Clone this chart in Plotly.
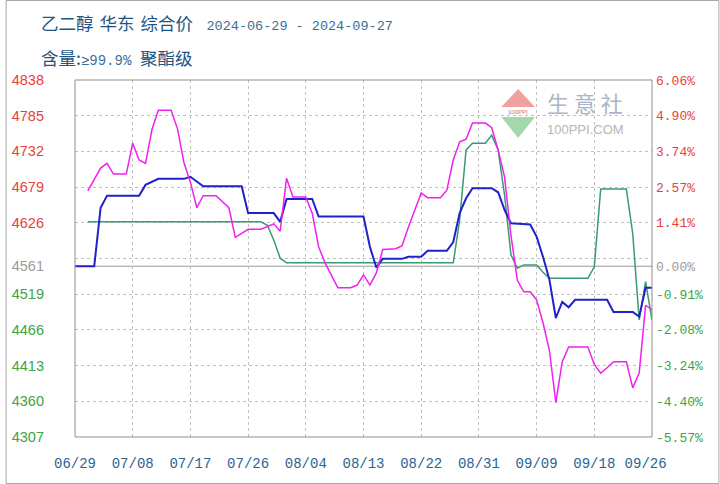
import plotly.graph_objects as go

# ---------------- data ----------------
blue_dates = ["2024-06-29", "2024-07-02", "2024-07-03", "2024-07-04", "2024-07-09", "2024-07-10",
              "2024-07-12", "2024-07-16", "2024-07-17", "2024-07-19", "2024-07-25", "2024-07-26",
              "2024-07-30", "2024-07-31", "2024-08-01", "2024-08-05", "2024-08-06", "2024-08-13",
              "2024-08-14", "2024-08-15", "2024-08-16", "2024-08-19", "2024-08-20", "2024-08-22",
              "2024-08-23", "2024-08-26", "2024-08-27", "2024-08-28", "2024-08-29", "2024-08-30",
              "2024-09-02", "2024-09-03", "2024-09-04", "2024-09-05", "2024-09-08", "2024-09-09",
              "2024-09-10", "2024-09-11", "2024-09-12", "2024-09-13", "2024-09-14", "2024-09-15",
              "2024-09-20", "2024-09-21", "2024-09-24", "2024-09-25", "2024-09-26", "2024-09-27"]
blue_vals = [4561, 4561, 4648, 4666, 4666, 4682,
             4691, 4691, 4694, 4680, 4680, 4640,
             4640, 4627, 4661, 4661, 4635, 4635,
             4590, 4559, 4572, 4572, 4575, 4575,
             4584, 4584, 4597, 4640, 4662, 4677,
             4677, 4671, 4645, 4625, 4623, 4605,
             4575, 4541, 4484, 4508, 4500, 4511,
             4511, 4493, 4493, 4486, 4529, 4529]

magenta_dates = ["2024-07-01", "2024-07-03", "2024-07-04", "2024-07-05", "2024-07-07", "2024-07-08",
                 "2024-07-09", "2024-07-10", "2024-07-11", "2024-07-12", "2024-07-14", "2024-07-15",
                 "2024-07-16", "2024-07-17", "2024-07-18", "2024-07-19", "2024-07-21", "2024-07-23",
                 "2024-07-24", "2024-07-26", "2024-07-28", "2024-07-30", "2024-07-31", "2024-08-01",
                 "2024-08-02", "2024-08-04", "2024-08-05", "2024-08-06", "2024-08-07", "2024-08-09",
                 "2024-08-11", "2024-08-12", "2024-08-13", "2024-08-14", "2024-08-15", "2024-08-16",
                 "2024-08-18", "2024-08-19", "2024-08-20", "2024-08-21", "2024-08-22", "2024-08-23",
                 "2024-08-25", "2024-08-26", "2024-08-27", "2024-08-28", "2024-08-29", "2024-08-30",
                 "2024-09-01", "2024-09-02", "2024-09-03", "2024-09-04", "2024-09-05", "2024-09-06",
                 "2024-09-07", "2024-09-08", "2024-09-09", "2024-09-10", "2024-09-11", "2024-09-12",
                 "2024-09-13", "2024-09-14", "2024-09-17", "2024-09-18", "2024-09-19", "2024-09-20",
                 "2024-09-21", "2024-09-23", "2024-09-24", "2024-09-25", "2024-09-26", "2024-09-27"]
magenta_vals = [4673, 4707, 4714, 4698, 4698, 4744,
                4719, 4714, 4764, 4793, 4793, 4765,
                4715, 4686, 4648, 4666, 4666, 4648,
                4604, 4616, 4616, 4624, 4613, 4692,
                4664, 4664, 4640, 4590, 4566, 4529,
                4529, 4533, 4548, 4533, 4551, 4586,
                4587, 4591, 4619, 4645, 4670, 4663,
                4663, 4674, 4719, 4746, 4750, 4774,
                4774, 4767, 4734, 4694, 4607, 4540,
                4523, 4523, 4511, 4477, 4436, 4358,
                4419, 4441, 4441, 4415, 4402, 4410,
                4419, 4419, 4380, 4402, 4503, 4496]

green_dates = ["2024-07-01", "2024-07-28", "2024-07-29", "2024-07-30", "2024-07-31", "2024-08-01",
               "2024-08-27", "2024-08-28", "2024-08-29", "2024-08-30", "2024-09-01", "2024-09-02",
               "2024-09-03", "2024-09-04", "2024-09-05", "2024-09-06", "2024-09-07", "2024-09-09",
               "2024-09-10", "2024-09-11", "2024-09-17", "2024-09-18", "2024-09-19", "2024-09-23",
               "2024-09-24", "2024-09-25", "2024-09-26", "2024-09-27"]
green_vals = [4627, 4627, 4622, 4600, 4573, 4566,
              4566, 4630, 4734, 4744, 4744, 4756,
              4734, 4667, 4578, 4558, 4563, 4563,
              4552, 4543, 4543, 4560, 4676, 4676,
              4609, 4481, 4538, 4481]

base_price = 4561
y_tick_vals = [4307, 4360.1, 4413.2, 4466.3, 4519.4, 4561, 4625.6, 4678.7, 4731.8, 4784.9, 4838]
y_tick_text = ["4307", "4360", "4413", "4466", "4519", "4561", "4626", "4679", "4732", "4785", "4838"]
pct_tick_text = ["-5.57%", "-4.40%", "-3.24%", "-2.08%", "-0.91%", "0.00%", "1.41%", "2.57%", "3.74%", "4.90%", "6.06%"]
grid_vals = [4360.1, 4413.2, 4466.3, 4519.4, 4572.5, 4625.6, 4678.7, 4731.8, 4784.9]
x_tick_vals = ["2024-06-29", "2024-07-08", "2024-07-17", "2024-07-26", "2024-08-04", "2024-08-13",
               "2024-08-22", "2024-08-31", "2024-09-09", "2024-09-18", "2024-09-26"]
x_tick_text = ["06/29", "07/08", "07/17", "07/26", "08/04", "08/13", "08/22", "08/31", "09/09", "09/18", "09/26"]
x_grid_vals = x_tick_vals[1:-1]

title1_words = ["乙二醇", "华东", "综合价"]
title1_dates = "2024-06-29 - 2024-09-27"
title2_a = "含量:"
title2_b = "≥99.9%"
title2_c = "聚酯级"

# ---------------- layout helpers ----------------
W, H = 720, 484
L, R, T, B = 70, 68, 80, 47
PW, PH = W - L - R, H - T - B
X_RANGE = ["2024-06-29", "2024-09-27"]
Y_RANGE = [4307, 4838]


def px(x):
    return (x - L) / PW


def py(y):
    return (H - B - y) / PH


RED, GRAY, GREEN = "#e8413a", "#9a9a9a", "#3aa545"


def col(v):
    if abs(v - base_price) < 1e-6:
        return GRAY
    return RED if v > base_price else GREEN


left_text = [f'<span style="color:{col(v)}">{t}</span>' for v, t in zip(y_tick_vals, y_tick_text)]
right_text = [f'<span style="color:{col(v)}">{t}</span>' for v, t in zip(y_tick_vals, pct_tick_text)]

fig = go.Figure()

# invisible carrier trace for the grid axes (x2 / y3)
fig.add_trace(go.Scatter(x=X_RANGE, y=Y_RANGE, mode="lines", xaxis="x2", yaxis="y3",
                         line=dict(color="rgba(0,0,0,0)", width=0), hoverinfo="skip", showlegend=False))

shapes = [dict(type="line", xref="paper", yref="y", x0=0, x1=1, y0=base_price, y1=base_price,
               line=dict(color="#9a9a9a", width=1.2), layer="below")]

fig.add_trace(go.Scatter(x=green_dates, y=green_vals, mode="lines",
                         line=dict(color="#3a9a70", width=1.5), showlegend=False))
fig.add_trace(go.Scatter(x=blue_dates, y=blue_vals, mode="lines",
                         line=dict(color="#2020cc", width=2), showlegend=False))
fig.add_trace(go.Scatter(x=magenta_dates, y=magenta_vals, mode="lines",
                         line=dict(color="#f020f0", width=1.5), showlegend=False))
fig.add_trace(go.Scatter(x=blue_dates, y=blue_vals, mode="lines", yaxis="y2",
                         line=dict(color="rgba(0,0,0,0)", width=0), hoverinfo="skip", showlegend=False))

shapes.append(dict(type="rect", xref="paper", yref="paper", x0=0, x1=1, y0=0, y1=1,
                   line=dict(color="#8e8e8e", width=1)))
# outer frame
shapes.append(dict(type="rect", xref="paper", yref="paper", x0=px(0.5), x1=px(719.5), y0=py(483.5), y1=py(0.5),
                   line=dict(color="#a8a8a8", width=1)))
# watermark diamond
shapes.append(dict(type="path", xref="paper", yref="paper",
                   path=f"M {px(500)},{py(107)} L {px(517)},{py(89)} L {px(534)},{py(107)} Z",
                   fillcolor="#f0a0a0", line=dict(width=0), layer="below"))
shapes.append(dict(type="path", xref="paper", yref="paper",
                   path=f"M {px(500)},{py(117)} L {px(534)},{py(117)} L {px(517)},{py(138)} Z",
                   fillcolor="#a4d8ac", line=dict(width=0), layer="below"))

CN = "font-family:Noto Sans CJK SC;font-size:17.5px;color:#1d5685"
MONO = "font-family:Liberation Mono;font-size:13.5px;color:#3c6e98"
SP = "\u2002"
t1 = SP.join(f'<span style="{CN}">{w}</span>' for w in title1_words)
t1 += f'<span style="{MONO}">{SP}{SP}{title1_dates}</span>'
t2 = (f'<span style="{CN}">{title2_a}</span><span style="{MONO};font-size:14px;color:#1d5685">{title2_b}</span>'
      f'<span style="{CN}">{SP}{title2_c}</span>')

annotations = [
    dict(xref="paper", yref="paper", x=px(34), y=py(23), xanchor="left", yanchor="middle", showarrow=False,
         text=t1),
    dict(xref="paper", yref="paper", x=px(34), y=py(57), xanchor="left", yanchor="middle", showarrow=False,
         text=t2),
    dict(xref="paper", yref="paper", x=px(584), y=py(102), xanchor="center", yanchor="middle", showarrow=False,
         text="生 意 社", font=dict(family="Noto Sans CJK SC", size=22, color="#aab6c8")),
    dict(xref="paper", yref="paper", x=px(585), y=py(129), xanchor="center", yanchor="middle", showarrow=False,
         text="100PPI.COM", font=dict(family="Liberation Sans", size=13, color="#b6b6b6")),
    dict(xref="paper", yref="paper", x=px(517), y=py(112), xanchor="center", yanchor="middle", showarrow=False,
         text="100PPI", font=dict(family="Liberation Sans", size=6, color="#c87070")),
]

GRID_COLOR = "#c0c0c0"
fig.update_layout(
    width=W, height=H,
    margin=dict(l=L, r=R, t=T, b=B, pad=0),
    paper_bgcolor="white", plot_bgcolor="white",
    showlegend=False,
    shapes=shapes,
    annotations=annotations,
    xaxis=dict(type="date", range=X_RANGE, showgrid=False, zeroline=False,
               tickmode="array", tickvals=x_tick_vals, ticktext=x_tick_text, ticks="",
               tickfont=dict(family="Liberation Mono", size=14, color="#2b6391"),
               ticklabelstandoff=16, showline=False),
    xaxis2=dict(type="date", range=X_RANGE, overlaying="x", showgrid=True, gridcolor=GRID_COLOR,
                griddash="3px,3px", gridwidth=1, tickmode="array", tickvals=x_grid_vals,
                showticklabels=False, ticks="", zeroline=False, showline=False),
    yaxis=dict(range=Y_RANGE, showgrid=False, zeroline=False, tickmode="array",
               tickvals=y_tick_vals, ticktext=left_text, ticks="",
               tickfont=dict(family="Liberation Sans", size=14.5), ticklabelstandoff=30, showline=False),
    yaxis2=dict(range=Y_RANGE, overlaying="y", side="right", showgrid=False, zeroline=False,
                tickmode="array", tickvals=y_tick_vals, ticktext=right_text, ticks="",
                tickfont=dict(family="Liberation Mono", size=13), ticklabelstandoff=3, showline=False),
    yaxis3=dict(range=Y_RANGE, overlaying="y", showgrid=True, gridcolor=GRID_COLOR, griddash="3px,3px",
                gridwidth=1, tickmode="array", tickvals=grid_vals, showticklabels=False, ticks="",
                zeroline=False, showline=False),
)

fig.write_html("out.html")
